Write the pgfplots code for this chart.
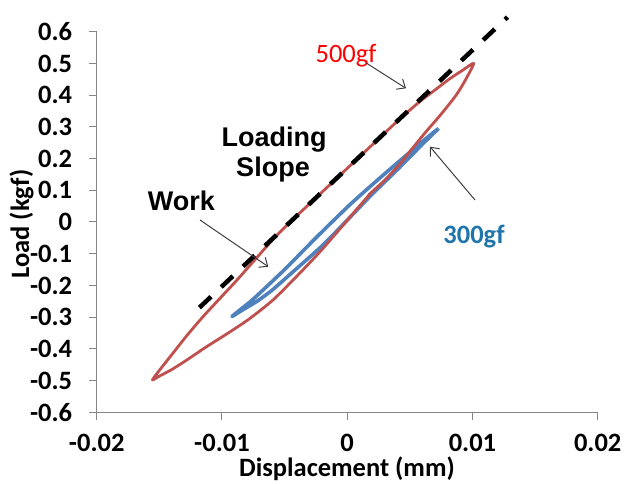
\documentclass[border=0pt]{standalone}
\usepackage{fontspec}
\setmainfont{Carlito}
\newfontfamily\arialf{Liberation Sans}
\usepackage{pgfplots}
\pgfplotsset{compat=1.18}
\usetikzlibrary{arrows.meta}
\definecolor{redline}{HTML}{C0504D}
\definecolor{blueline}{HTML}{4F81BD}
\definecolor{axgray}{HTML}{868686}
\definecolor{lblblue}{HTML}{1F74AC}
\definecolor{arrgray}{HTML}{404040}
\newcommand{\lf}{\fontsize{26.5}{30}\selectfont}
\newcommand{\af}{\arialf\fontsize{27}{30}\selectfont\bfseries}
\begin{document}
\begin{tikzpicture}[x=1pt,y=1pt]
\useasboundingbox (0,0) rectangle (624,483);
\begin{axis}[
  at={(96.7pt,70.7pt)}, anchor=south west,
  width=501pt, height=380.6pt, scale only axis,
  xmin=-0.02, xmax=0.02, ymin=-0.6, ymax=0.6,
  axis x line=bottom, axis y line=left,
  axis line style={-, draw=axgray, line width=1pt},
  xtick={-0.02,-0.01,0,0.01,0.02},
  xticklabels={-0.02,-0.01,0,0.01,0.02},
  ytick={-0.6,-0.5,-0.4,-0.3,-0.2,-0.1,0,0.1,0.2,0.3,0.4,0.5,0.6},
  yticklabels={-0.6,-0.5,-0.4,-0.3,-0.2,-0.1,0,0.1,0.2,0.3,0.4,0.5,0.6},
  scaled x ticks=false, scaled y ticks=false,
  tick align=outside, major tick length=8pt,
  tick style={draw=axgray, line width=1pt},
  ticklabel style={font=\lf\bfseries},
  yticklabel style={xshift=-13pt},
  xticklabel style={yshift=-14pt, inner sep=0pt},
  clip=false,
]
% 300gf
\addplot[blueline, line width=3.6pt, smooth, tension=0.4, line join=round] coordinates {
(0.0073,0.295) (0.0060,0.245) (0.0040,0.165) (0.0020,0.088) (0.0002,0.014)
(-0.0020,-0.075) (-0.0045,-0.163) (-0.0060,-0.215) (-0.0072,-0.250)
(-0.0083,-0.276) (-0.0092,-0.298)
(-0.0084,-0.272) (-0.0075,-0.243) (-0.0050,-0.150) (-0.0025,-0.050)
(0.0002,0.054) (0.0025,0.135) (0.0050,0.220) (0.0065,0.270) (0.0073,0.295)
};
% 500gf
\addplot[redline, line width=2.8pt, smooth, tension=0.4, line join=round] coordinates {
(0.0019,0.092) (0.0008,0.042) (-0.0005,-0.018) (-0.0022,-0.095)
(-0.0040,-0.170) (-0.0059,-0.245) (-0.0078,-0.305) (-0.0095,-0.350)
(-0.0113,-0.395) (-0.0128,-0.435) (-0.0140,-0.465) (-0.0150,-0.486) (-0.01555,-0.498)
(-0.0150,-0.468) (-0.0140,-0.418) (-0.0128,-0.358) (-0.0115,-0.298)
(-0.0100,-0.234) (-0.0088,-0.183) (-0.0075,-0.125) (-0.0060,-0.058) (-0.0045,0.002)
(-0.0025,0.076) (0.0,0.169) (0.0025,0.262) (0.0042,0.325) (0.0058,0.380) (0.0068,0.410)
(0.0082,0.452) (0.0092,0.478) (0.0101,0.500)
(0.0094,0.445) (0.0087,0.400) (0.0075,0.340) (0.0063,0.285) (0.0052,0.232)
(0.0042,0.183) (0.0030,0.132) (0.0017,0.085)
};
% loading slope
\addplot[black, line width=4.5pt, dash pattern=on 16pt off 14pt] coordinates {
(-0.0118,-0.270) (0.0128,0.646)
};
\end{axis}
% axis labels
\node[font=\lf\bfseries, anchor=base, inner sep=0pt] at (347,7) {Displacement (mm)};
\node[font=\lf\bfseries, anchor=base, rotate=90] at (29,259) {Load (kgf)};
% annotations
\node[font=\lf, text=red, anchor=base] at (346,420) {500gf};
\node[font=\af, anchor=base] at (274,336.3) {Loading};
\node[font=\af, anchor=base] at (273,306.3) {Slope};
\node[font=\af, anchor=base] at (181.5,273) {Work};
\node[font=\lf\bfseries, text=lblblue, anchor=base] at (474,240) {300gf};
\draw[arrgray, line width=1pt, -{Straight Barb[length=7pt,width=12pt]}] (366.7,419.7) -- (406,394.7);
\draw[arrgray, line width=1pt, -{Straight Barb[length=7pt,width=12pt]}] (200,263) -- (268.3,216.3);
\draw[arrgray, line width=1pt, -{Straight Barb[length=7pt,width=12pt]}] (475,283) -- (430,336.3);
\end{tikzpicture}
\end{document}
